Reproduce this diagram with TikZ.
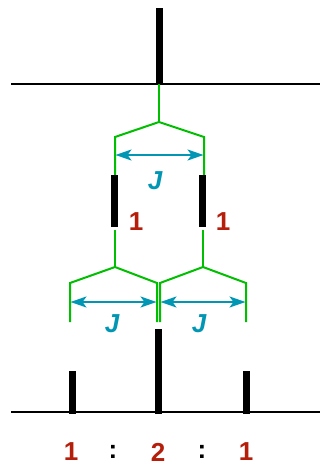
\documentclass[tikz,border=0pt]{standalone}
\usepackage{fontspec}
\setmainfont{Liberation Sans}
\usetikzlibrary{arrows.meta}
\definecolor{splitgreen}{RGB}{0,190,0}
\definecolor{jblue}{RGB}{0,150,180}
\definecolor{intred}{RGB}{180,30,10}
\tikzset{
  bar/.style={fill=black, draw=none, inner sep=0pt, minimum width=7pt},
  base/.style={line width=2pt, black},
  split/.style={line width=2pt, splitgreen},
  coup/.style={line width=2pt, jblue, {Stealth[length=16pt,width=11pt,inset=4pt]}-{Stealth[length=16pt,width=11pt,inset=4pt]}, shorten <=0.5pt, shorten >=0.5pt},
  jlab/.style={text=jblue, font=\fontsize{26}{26}\selectfont\bfseries\itshape, inner sep=0pt},
  intlab/.style={text=intred, font=\fontsize{26}{26}\selectfont\bfseries, inner sep=0pt},
  collab/.style={text=black, font=\fontsize{26}{26}\selectfont\bfseries, inner sep=0pt}
}
\begin{document}
\begin{tikzpicture}[x=1pt,y=-1pt]
\useasboundingbox (0,0) rectangle (320,466);
% baselines
\coordinate (b1l) at (11,84); \coordinate (b1r) at (320,84);
\coordinate (b2l) at (11,412); \coordinate (b2r) at (320,412);
\draw[base] (b1l) -- (b1r);
\draw[base] (b2l) -- (b2r);
% top singlet bar
\node[bar, minimum height=77pt] (topbar) at (159.5,46.5) {};
% first splitting
\coordinate (a0) at (159,84);
\coordinate (a1) at (159,122);
\coordinate (al) at (115,137); \coordinate (ar) at (204,137);
\coordinate (alb) at (115,175); \coordinate (arb) at (204,175);
\draw[split] (a0) -- (a1);
\draw[split] (a1) -- (al) -- (alb);
\draw[split] (a1) -- (ar) -- (arb);
\draw[coup] (115,155) coordinate (j1a) -- (204,155) coordinate (j1b);
\node[jlab] (J1) at (155,181) {J};
% doublet bars
\node[bar, minimum height=52pt] (dbl) at (114.5,201) {};
\node[bar, minimum height=52pt] (dbr) at (202.5,201) {};
\node[intlab] (i1) at (136,222) {1};
\node[intlab] (i2) at (223,222) {1};
% second splitting
\coordinate (l0) at (115,230); \coordinate (l1) at (115,267);
\coordinate (r0) at (203,230); \coordinate (r1) at (203,267);
\draw[split] (l0) -- (l1);
\draw[split] (r0) -- (r1);
\draw[split] (l1) -- (70,283) coordinate (ll) -- (70,322) coordinate (llb);
\draw[split] (l1) -- (157,283) coordinate (lr) -- (157,322) coordinate (lrb);
\draw[split] (r1) -- (160,283) coordinate (rl) -- (160,322) coordinate (rlb);
\draw[split] (r1) -- (246,283) coordinate (rr) -- (246,322) coordinate (rrb);
\draw[coup] (70,302) coordinate (j2a) -- (157,302) coordinate (j2b);
\draw[coup] (160,302) coordinate (j3a) -- (246,302) coordinate (j3b);
\node[jlab] (J2) at (112,324) {J};
\node[jlab] (J3) at (199,324) {J};
% triplet bars
\node[bar, minimum height=43pt] (tl) at (72.5,392.5) {};
\node[bar, minimum height=85pt] (tc) at (158,371.5) {};
\node[bar, minimum height=43pt] (tr) at (246.5,392.5) {};
% ratio
\node[intlab] (r1lab) at (71,452) {1};
\node[collab] (c1) at (113,452) {:};
\node[intlab] (r2lab) at (158,452) {2};
\node[collab] (c2) at (202,452) {:};
\node[intlab] (r3lab) at (246,452) {1};
\end{tikzpicture}
\end{document}
